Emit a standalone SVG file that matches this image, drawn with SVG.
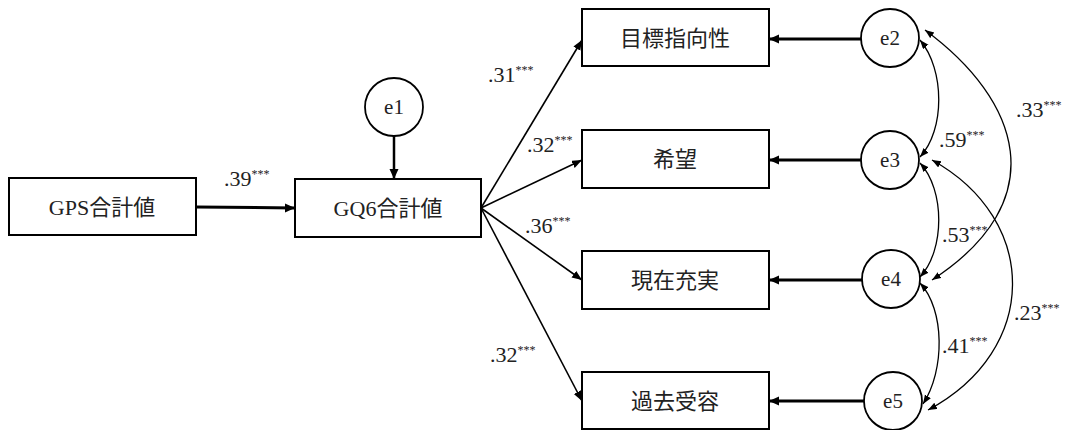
<svg xmlns="http://www.w3.org/2000/svg" width="1073" height="430" viewBox="0 0 1073 430">
<style>
.box{fill:#fff;stroke:#000;stroke-width:2}
.circ{fill:#fff;stroke:#000;stroke-width:1.8}
.lbl{font-family:'Liberation Serif','Noto Sans CJK JP',serif;font-size:22px;fill:#222;text-anchor:middle}
.el{font-family:'Liberation Serif',serif;font-size:21px;fill:#222;text-anchor:middle}
.num{font-family:'Liberation Serif',serif;font-size:22px;fill:#222}
.sup{font-size:12px}
.thin{fill:none;stroke:#000;stroke-width:1.6;marker-end:url(#ah)}
.thick{fill:none;stroke:#000;stroke-width:3;marker-end:url(#ahb)}
.cov{fill:none;stroke:#000;stroke-width:1.3;marker-start:url(#ahs);marker-end:url(#ahs)}
</style>
<defs>
<marker id="ah" markerUnits="userSpaceOnUse" markerWidth="12" markerHeight="10" refX="10" refY="4" orient="auto"><path d="M0,0 L10,4 L0,8 Z" fill="#000"/></marker>
<marker id="ahb" markerUnits="userSpaceOnUse" markerWidth="12" markerHeight="10" refX="10" refY="4.5" orient="auto"><path d="M0,0 L10,4.5 L0,9 Z" fill="#000"/></marker>
<marker id="ahs" markerUnits="userSpaceOnUse" markerWidth="12" markerHeight="10" refX="9" refY="3.5" orient="auto-start-reverse"><path d="M0,0 L9,3.5 L0,7 Z" fill="#000"/></marker>
</defs>

<g id="connectors">
<path class="thick" d="M196,207 L295,208"/>
<path class="thick" d="M394,136 L394,179" style="stroke-width:2.5"/>
<path class="thin" d="M481,208 L582,40"/>
<path class="thin" d="M481,208 L582,160"/>
<path class="thin" d="M481,208 L582,280"/>
<path class="thin" d="M481,208 L582,401"/>
<path class="thick" d="M861,39 L769,39"/>
<path class="thick" d="M861,160 L769,160"/>
<path class="thick" d="M862,280 L769,280"/>
<path class="thick" d="M864,401 L769,401"/>
<path class="cov" d="M920,40 C945,70 945,130 920,157"/>
<path class="cov" d="M925,30 C1020,100 1055,200 932,280"/>
<path class="cov" d="M920,163 C945,190 945,250 920,277"/>
<path class="cov" d="M932,160 C1040,220 1040,350 928,410"/>
<path class="cov" d="M920,283 C945,310 945,370 923,404"/>
</g>

<g id="n-gps"><rect class="box" x="9" y="178" width="187" height="57"/><text class="lbl" x="102" y="215">GPS合計値</text></g>
<g id="n-gq6"><rect class="box" x="295" y="179" width="186" height="58"/><text class="lbl" x="388" y="216">GQ6合計値</text></g>
<g id="n-e1"><circle class="circ" cx="394" cy="107" r="29"/><text class="el" x="394" y="114">e1</text></g>
<g id="n-goal"><rect class="box" x="582" y="9" width="187" height="57"/><text class="lbl" x="675" y="46">目標指向性</text></g>
<g id="n-hope"><rect class="box" x="582" y="130" width="187" height="58"/><text class="lbl" x="675" y="167">希望</text></g>
<g id="n-now"><rect class="box" x="582" y="251" width="187" height="58"/><text class="lbl" x="675" y="288">現在充実</text></g>
<g id="n-past"><rect class="box" x="582" y="372" width="187" height="57"/><text class="lbl" x="675" y="409">過去受容</text></g>
<g id="n-e2"><circle class="circ" cx="890" cy="38" r="29"/><text class="el" x="890" y="45">e2</text></g>
<g id="n-e3"><circle class="circ" cx="890" cy="160" r="29"/><text class="el" x="890" y="167">e3</text></g>
<g id="n-e4"><circle class="circ" cx="891" cy="279" r="29"/><text class="el" x="891" y="286">e4</text></g>
<g id="n-e5"><circle class="circ" cx="893" cy="401" r="29"/><text class="el" x="893" y="408">e5</text></g>

<g id="labels">
<text class="num" x="224" y="186">.39<tspan class="sup" dy="-8">***</tspan></text>
<text class="num" x="488" y="82">.31<tspan class="sup" dy="-8">***</tspan></text>
<text class="num" x="527" y="152">.32<tspan class="sup" dy="-8">***</tspan></text>
<text class="num" x="525" y="233">.36<tspan class="sup" dy="-8">***</tspan></text>
<text class="num" x="490" y="362">.32<tspan class="sup" dy="-8">***</tspan></text>
<text class="num" x="1016" y="117">.33<tspan class="sup" dy="-8">***</tspan></text>
<text class="num" x="939" y="147">.59<tspan class="sup" dy="-8">***</tspan></text>
<text class="num" x="942" y="242">.53<tspan class="sup" dy="-8">***</tspan></text>
<text class="num" x="1014" y="320">.23<tspan class="sup" dy="-8">***</tspan></text>
<text class="num" x="942" y="353">.41<tspan class="sup" dy="-8">***</tspan></text>
</g>
</svg>
